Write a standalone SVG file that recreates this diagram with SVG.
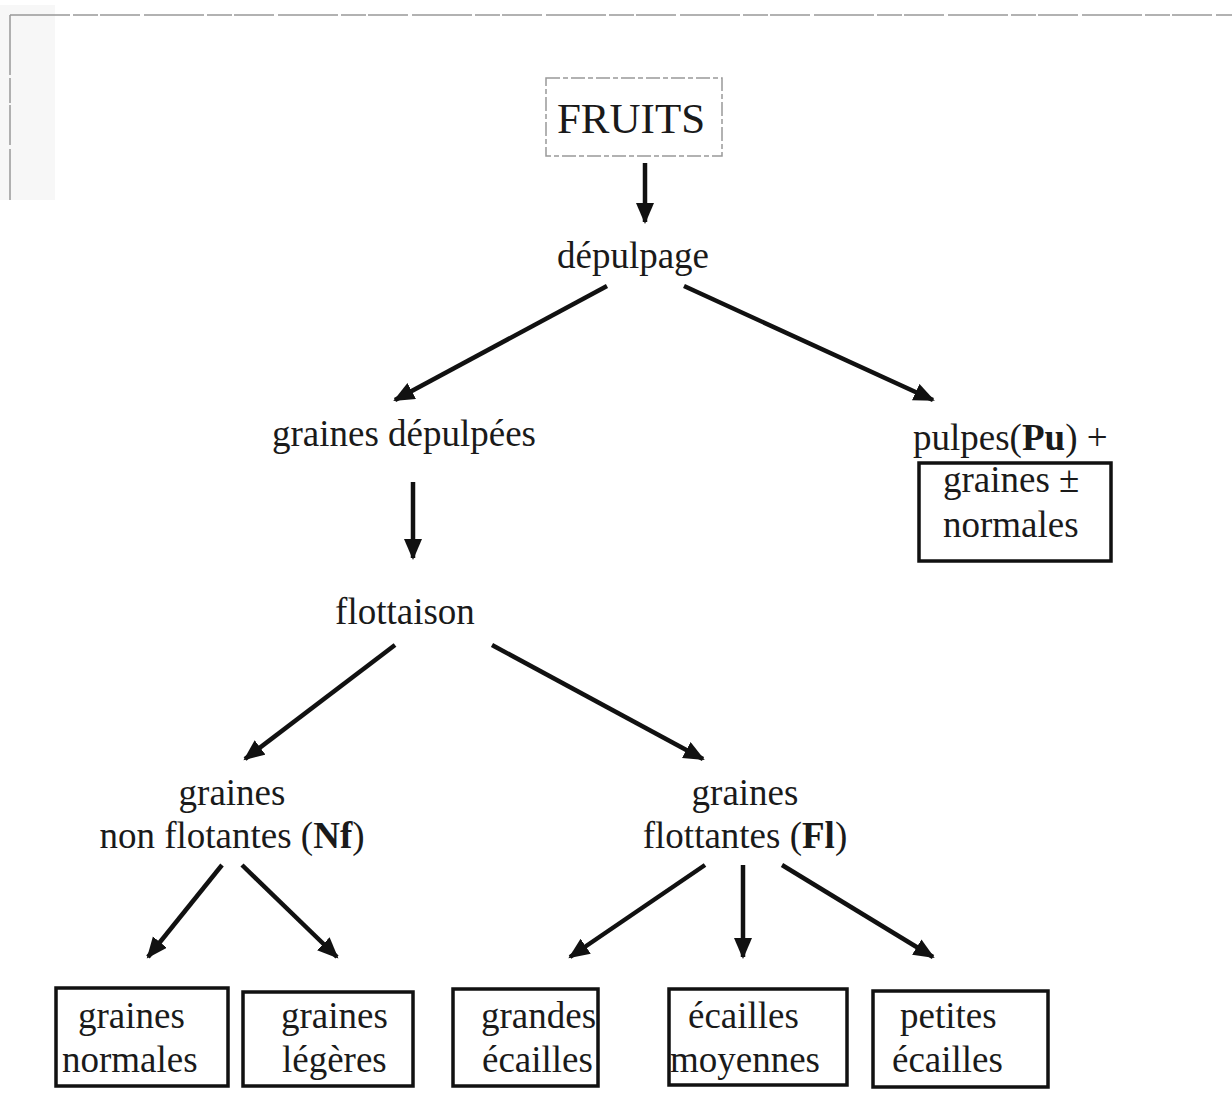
<svg xmlns="http://www.w3.org/2000/svg" width="1232" height="1094" viewBox="0 0 1232 1094">
  <style>
    .t { font-family: "Liberation Serif", "Times New Roman", serif; font-size: 37px; fill: #1a1a1a; }
    .big { font-size: 43px; }
    .b { font-weight: bold; }
    .box { fill: none; stroke: #111; stroke-width: 3.5; }
    .frame { fill: none; stroke: #999; stroke-width: 1.5; stroke-dasharray: 60 3 25 2 40 4; }
    .edge { stroke: #111; stroke-width: 4.5; fill: none; marker-end: url(#head); }
  </style>
  <defs>
    <marker id="head" markerUnits="userSpaceOnUse" markerWidth="24" markerHeight="20" refX="19" refY="9" orient="auto">
      <path d="M0,0 L21,9 L0,18 z" fill="#111"/>
    </marker>
  </defs>

  <rect width="1232" height="1094" fill="#fff"/>
  <!-- page margin shading and frame lines -->
  <rect x="0" y="5" width="55" height="195" fill="#f7f7f7"/>
  <g id="page-frame">
    <line x1="10" y1="15" x2="1232" y2="15" class="frame"/>
    <line x1="10" y1="15" x2="10" y2="200" class="frame" stroke-dasharray="45 12 3 14 2 20"/>
  </g>

  <g id="connectors">
    <line x1="645" y1="163" x2="645" y2="222" class="edge"/>
    <line x1="607" y1="286" x2="395" y2="400" class="edge"/>
    <line x1="684" y1="286" x2="933" y2="400" class="edge"/>
    <line x1="413" y1="482" x2="413" y2="558" class="edge"/>
    <line x1="395" y1="645" x2="245" y2="759" class="edge"/>
    <line x1="492" y1="645" x2="703" y2="759" class="edge"/>
    <line x1="222" y1="865" x2="148" y2="957" class="edge"/>
    <line x1="242" y1="865" x2="337" y2="957" class="edge"/>
    <line x1="705" y1="865" x2="570" y2="957" class="edge"/>
    <line x1="743" y1="865" x2="743" y2="957" class="edge"/>
    <line x1="782" y1="865" x2="933" y2="957" class="edge"/>
  </g>

  <g id="fruits">
    <rect x="546" y="78" width="176" height="78" fill="none" stroke="#999" stroke-width="1.5" stroke-dasharray="14 3 5 3"/>
    <text x="631" y="133" class="t big" text-anchor="middle">FRUITS</text>
  </g>

  <g id="depulpage">
    <text x="633" y="268" class="t" text-anchor="middle">dépulpage</text>
  </g>

  <g id="graines-depulpees">
    <text x="404" y="446" class="t" text-anchor="middle">graines dépulpées</text>
  </g>

  <g id="pulpes">
    <text x="913" y="450" class="t">pulpes(<tspan class="b">Pu</tspan>) +</text>
    <rect x="919" y="463" width="192" height="98" class="box"/>
    <text x="943" y="492" class="t">graines ±</text>
    <text x="943" y="537" class="t">normales</text>
  </g>

  <g id="flottaison">
    <text x="405" y="624" class="t" text-anchor="middle">flottaison</text>
  </g>

  <g id="non-flottantes">
    <text x="232" y="805" class="t" text-anchor="middle">graines</text>
    <text x="232" y="848" class="t" text-anchor="middle">non flotantes (<tspan class="b">Nf</tspan>)</text>
  </g>

  <g id="flottantes">
    <text x="745" y="805" class="t" text-anchor="middle">graines</text>
    <text x="745" y="848" class="t" text-anchor="middle">flottantes (<tspan class="b">Fl</tspan>)</text>
  </g>

  <g id="graines-normales">
    <rect x="56" y="988" width="172" height="98" class="box"/>
    <text x="78" y="1028" class="t">graines</text>
    <text x="62" y="1072" class="t">normales</text>
  </g>

  <g id="graines-legeres">
    <rect x="243" y="992" width="170" height="94" class="box"/>
    <text x="281" y="1028" class="t">graines</text>
    <text x="282" y="1072" class="t">légères</text>
  </g>

  <g id="grandes-ecailles">
    <rect x="453" y="989" width="145" height="97" class="box"/>
    <text x="481" y="1028" class="t">grandes</text>
    <text x="482" y="1072" class="t">écailles</text>
  </g>

  <g id="ecailles-moyennes">
    <rect x="669" y="989" width="178" height="96" class="box"/>
    <text x="688" y="1028" class="t">écailles</text>
    <text x="670" y="1072" class="t">moyennes</text>
  </g>

  <g id="petites-ecailles">
    <rect x="873" y="991" width="175" height="96" class="box"/>
    <text x="900" y="1028" class="t">petites</text>
    <text x="892" y="1072" class="t">écailles</text>
  </g>
</svg>
